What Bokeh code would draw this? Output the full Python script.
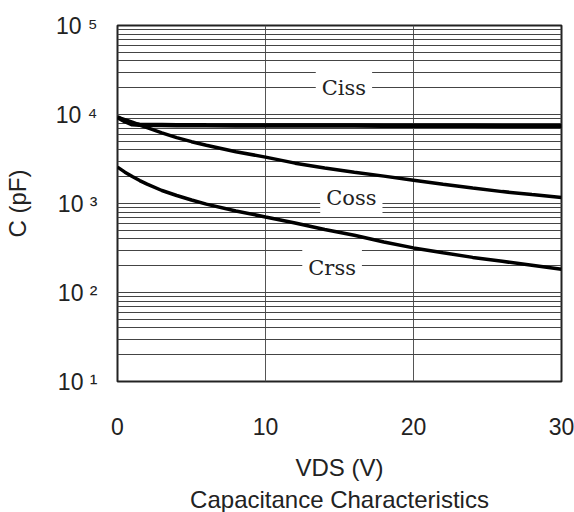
from bokeh.plotting import figure
from bokeh.models import FixedTicker, Label, Title, LogTicker
from bokeh.embed import file_html
from bokeh.resources import INLINE

# ---- data ----
vds = [0, 0.5, 1, 1.5, 2, 3, 4, 5, 6, 8, 10, 12, 14, 16, 18, 20, 22, 24, 26, 28, 30]
ciss = [9300, 8400, 7750, 7650, 7600, 7600, 7580, 7560, 7550, 7540, 7530,
        7520, 7510, 7500, 7490, 7480, 7470, 7460, 7450, 7450, 7450]
coss = [9300, 8730, 8190, 7620, 7120, 6230, 5490, 4950, 4520, 3820, 3320,
        2840, 2500, 2250, 2030, 1830, 1650, 1490, 1360, 1260, 1170]
crss = [2565, 2250, 2010, 1810, 1650, 1400, 1230, 1095, 985, 825, 705,
        605, 510, 440, 370, 317, 280, 248, 224, 202, 182]

x_ticks = [0, 10, 20, 30]
y_ticks = [10, 100, 1000, 10000, 100000]
y_tick_labels = ["10 \u00b9", "10 \u00b2", "10 \u00b3", "10 \u2074", "10 \u2075"]
curve_names = ["Ciss", "Coss", "Crss"]

p = figure(width=574, height=512, x_range=(0, 30), y_range=(10, 1e5),
           y_axis_type="log", output_backend="svg", toolbar_location=None,
           min_border_left=117, min_border_right=13, min_border_top=25,
           min_border_bottom=130, background_fill_color="white",
           border_fill_color="white")

p.outline_line_color = "#222222"
p.outline_line_width = 2

# axes
p.xaxis.ticker = FixedTicker(ticks=x_ticks)
p.yaxis.ticker = LogTicker(desired_num_ticks=5, num_minor_ticks=10)
p.yaxis.major_label_overrides = {t: s for t, s in zip(y_ticks, y_tick_labels)}

for ax in (p.xaxis[0], p.yaxis[0]):
    ax.axis_line_color = None
    ax.major_tick_line_color = None
    ax.minor_tick_line_color = None
    ax.major_label_text_font = "Liberation Sans"
    ax.major_label_text_font_size = "23px"
    ax.major_label_text_color = "#222222"
    ax.axis_label_text_font = "Liberation Sans"
    ax.axis_label_text_font_size = "24px"
    ax.axis_label_text_font_style = "normal"
    ax.axis_label_text_color = "#222222"
    ax.axis_label_text_line_height = 1.0
    ax.major_label_text_line_height = 1.0

p.xaxis.major_label_standoff = 30
p.xaxis.axis_label = "VDS (V)"
p.xaxis.axis_label_standoff = 16
p.yaxis.major_label_standoff = 14
p.yaxis.axis_label = "C (pF)"
p.yaxis.axis_label_standoff = 22

# grid
p.xgrid.ticker = FixedTicker(ticks=x_ticks)
p.xgrid.grid_line_color = "#555555"
p.xgrid.grid_line_width = 1
p.ygrid.grid_line_color = "#444444"
p.ygrid.grid_line_width = 1
p.ygrid.minor_grid_line_color = "#444444"
p.ygrid.minor_grid_line_width = 1

# curves
widths = [4.5, 3.5, 3.5]
for ys, w in zip((ciss, coss, crss), widths):
    p.line(vds, ys, line_color="black", line_width=w)

# curve labels with white boxes
label_pos = [(15.3, 20000), (15.8, 1150), (14.5, 190)]
for name, (lx, ly) in zip(curve_names, label_pos):
    p.add_layout(Label(x=lx, y=ly, text=name, text_align="center",
                       text_baseline="middle", text_font="DejaVu Serif",
                       text_font_size="21px", text_color="#222222",
                       background_fill_color="white", padding=6))

p.add_layout(Title(text="Capacitance Characteristics", align="center",
                   text_font="Liberation Sans", text_font_size="24px",
                   text_font_style="normal", text_color="#222222",
                   text_line_height=1.0, standoff=0), "below")

open("out.html", "w").write(file_html(p, INLINE))
